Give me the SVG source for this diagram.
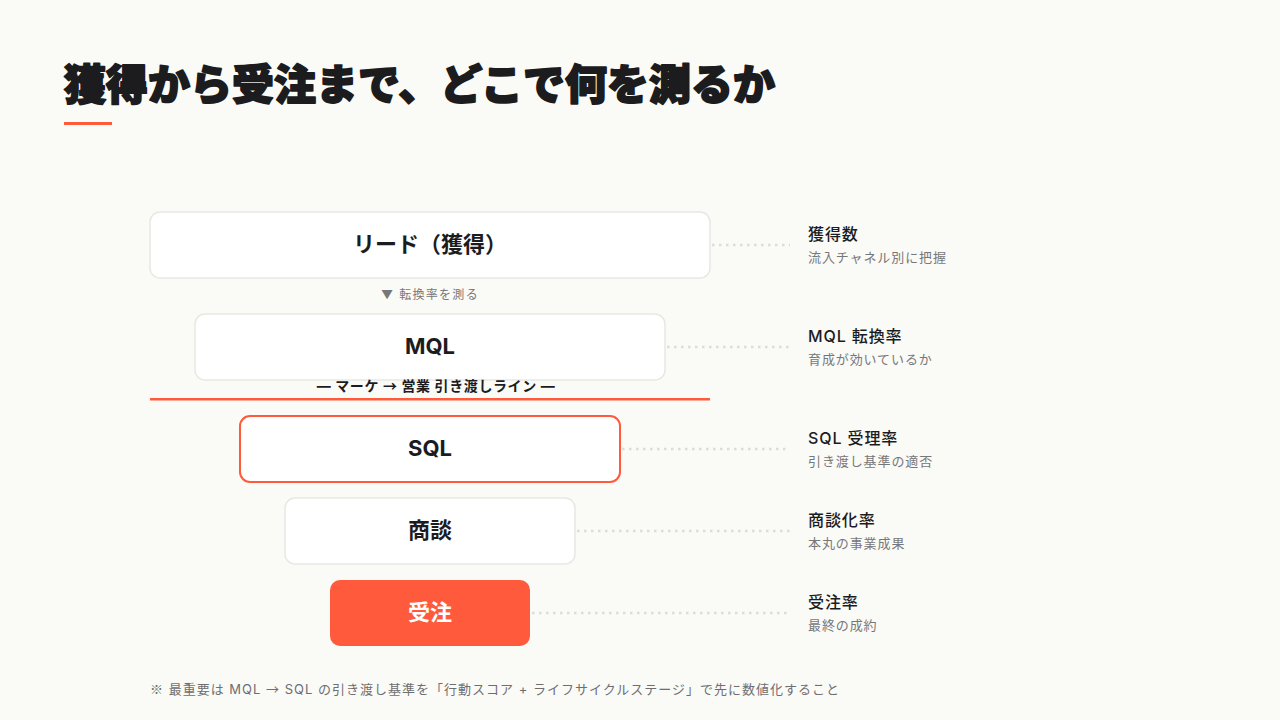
<svg xmlns="http://www.w3.org/2000/svg" width="1280" height="720" viewBox="0 0 1280 720">
<style>
.bg{fill:#fafaf6}
.title{font-family:"Noto Sans CJK JP","Noto Sans",sans-serif;font-weight:900;font-size:42px;fill:#1c1c1f;stroke:#1c1c1f;stroke-width:1.8;stroke-linejoin:round}
.box{fill:#ffffff;stroke:#e8e8e3;stroke-width:1.5}
.boxhl{fill:#ffffff;stroke:#ff5a3c;stroke-width:2}
.boxfill{fill:#ff5a3c}
.lbl{font-family:Inter,"Noto Sans CJK JP",sans-serif;font-weight:700;font-size:22px;fill:#1c1c1f;text-anchor:middle}
.lblw{fill:#ffffff}
.dot{stroke:#dcdcd8;stroke-width:2.5;stroke-dasharray:2.5 4.5;fill:none}
.mt{font-family:Inter,"Noto Sans CJK JP",sans-serif;font-weight:500;font-size:16px;fill:#1c1c1f;letter-spacing:0.9px}
.ms{font-family:Inter,"Noto Sans CJK JP",sans-serif;font-size:13px;fill:#77777a;letter-spacing:0.9px}
.small{font-family:Inter,"Noto Sans CJK JP",sans-serif;font-size:12px;fill:#77777a;text-anchor:middle;letter-spacing:1.3px}
.hand{font-family:Inter,"Noto Sans CJK JP",sans-serif;font-weight:700;font-size:14px;fill:#1c1c1f;text-anchor:middle;letter-spacing:0.6px}
.foot{font-family:Inter,"Noto Sans CJK JP",sans-serif;font-size:13px;fill:#6e6e72;letter-spacing:1px}
.cjk{font-family:"Noto Sans CJK JP",sans-serif}
</style>
<rect class="bg" x="0" y="0" width="1280" height="720"/>
<g id="header">
<text class="title" x="64" y="100">獲得から受注まで、どこで何を測るか</text>
<rect x="64" y="122" width="48" height="3" fill="#ff5a3c"/>
</g>
<g id="connectors">
<line class="dot" x1="712" y1="245" x2="790" y2="245"/>
<line class="dot" x1="667" y1="347" x2="790" y2="347"/>
<line class="dot" x1="622" y1="449" x2="790" y2="449"/>
<line class="dot" x1="577" y1="531" x2="790" y2="531"/>
<line class="dot" x1="532" y1="613" x2="790" y2="613"/>
</g>
<g id="node-lead">
<rect class="box" x="150" y="212" width="560" height="66" rx="10"/>
<text class="lbl" x="430" y="252">リード（獲得）</text>
</g>
<g id="step-note">
<text class="small" x="430" y="299">▼ 転換率を測る</text>
</g>
<g id="node-mql">
<rect class="box" x="195" y="314" width="470" height="66" rx="10"/>
<text class="lbl" x="430" y="354">MQL</text>
</g>
<g id="handoff">
<text class="hand" x="436" y="391">— マーケ <tspan class="cjk">→</tspan> 営業 引き渡しライン —</text>
<rect x="150" y="398" width="560" height="2.5" fill="#ff5a3c"/>
</g>
<g id="node-sql">
<rect class="boxhl" x="240" y="416" width="380" height="66" rx="10"/>
<text class="lbl" x="430" y="456">SQL</text>
</g>
<g id="node-deal">
<rect class="box" x="285" y="498" width="290" height="66" rx="10"/>
<text class="lbl" x="430" y="538">商談</text>
</g>
<g id="node-won">
<rect class="boxfill" x="330" y="580" width="200" height="66" rx="10"/>
<text class="lbl lblw" x="430" y="620">受注</text>
</g>
<g id="metric-lead">
<text class="mt" x="808" y="240">獲得数</text>
<text class="ms" x="808" y="262">流入チャネル別に把握</text>
</g>
<g id="metric-mql">
<text class="mt" x="808" y="342">MQL 転換率</text>
<text class="ms" x="808" y="364">育成が効いているか</text>
</g>
<g id="metric-sql">
<text class="mt" x="808" y="444">SQL 受理率</text>
<text class="ms" x="808" y="466">引き渡し基準の適否</text>
</g>
<g id="metric-deal">
<text class="mt" x="808" y="526">商談化率</text>
<text class="ms" x="808" y="548">本丸の事業成果</text>
</g>
<g id="metric-won">
<text class="mt" x="808" y="608">受注率</text>
<text class="ms" x="808" y="630">最終の成約</text>
</g>
<g id="footer">
<text class="foot" x="150" y="694"><tspan class="cjk">※</tspan> 最重要は MQL <tspan class="cjk">→</tspan> SQL の引き渡し基準を「行動スコア + ライフサイクルステージ」で先に数値化すること</text>
</g>
</svg>
